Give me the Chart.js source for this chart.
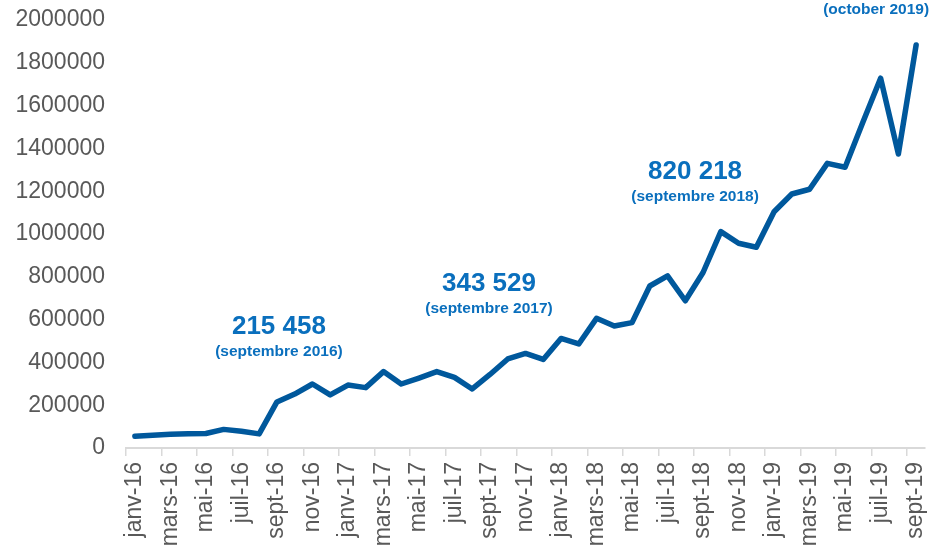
<!DOCTYPE html>
<html>
<head>
<meta charset="utf-8">
<script src="https://cdn.jsdelivr.net/npm/chart.js@4.4.1/dist/chart.umd.min.js"></script>
<style>
  html, body { margin: 0; padding: 0; background: #fff; }
  #wrap { width: 939px; height: 548px; }
</style>
</head>
<body>
<div id="wrap"><canvas id="chart"></canvas></div>
<script>
// months, janv-16 .. sept-19
var months = ['janv', 'févr', 'mars', 'avr', 'mai', 'juin', 'juil', 'août', 'sept', 'oct', 'nov', 'déc'];
var years = ['16', '17', '18', '19'];
var labels = [];
for (var y = 0; y < years.length; y++) {
  for (var m = 0; m < 12; m++) {
    if (y === 3 && m > 8) break;
    labels.push(months[m] + '-' + years[y]);
  }
}

var values = [
  55000, 60000, 64000, 67000, 68000, 87000, 78000, 66000,
  215458, 252000, 299000, 248000,
  294000, 282000, 357000, 299000, 327000, 357000, 330000, 276000,
  343529, 416000, 442000, 414000,
  512000, 486000, 606000, 570000, 586000, 757000, 804000, 688000,
  820218, 1011000, 957000, 938000,
  1104000, 1187000, 1209000, 1330000, 1312000, 1522000, 1728000, 1374000,
  1883000
];

var yTicks = [0, 200000, 400000, 600000, 800000, 1000000, 1200000, 1400000, 1600000, 1800000, 2000000];

// annotations: point index, main text, sub text
var notes = [
  { idx: 8, big: '215 458', small: '(septembre 2016)' },
  { idx: 20, big: '343 529', small: '(septembre 2017)' },
  { idx: 32, big: '820 218', small: '(septembre 2018)' },
  { idx: 44, big: '', small: '(october 2019)' }
];
// pixel offsets of each note from its point
var noteOffsets = [
  { dx: 2, dy: -75 },
  { dx: -1, dy: -91 },
  { dx: -8, dy: -101 },
  { dx: -40, dy: -35 }
];

var notePlugin = {
  id: 'notes',
  afterDatasetsDraw: function (chart) {
    var ctx = chart.ctx;
    var xs = chart.scales.x, ys = chart.scales.y;
    ctx.save();
    ctx.fillStyle = '#0a6fbd';
    ctx.textAlign = 'center';
    ctx.textBaseline = 'middle';
    notes.forEach(function (n, i) {
      var px = xs.getPixelForValue(n.idx) + noteOffsets[i].dx;
      var py = ys.getPixelForValue(values[n.idx]) + noteOffsets[i].dy;
      if (n.big) {
        ctx.font = 'bold 26px "Liberation Sans", Arial, sans-serif';
        ctx.fillText(n.big, px, py);
        ctx.font = 'bold 15.5px "Liberation Sans", Arial, sans-serif';
        ctx.fillText(n.small, px, py + 25);
      } else {
        ctx.font = 'bold 15.5px "Liberation Sans", Arial, sans-serif';
        ctx.fillText(n.small, px, py);
      }
    });
    ctx.restore();
  }
};

new Chart(document.getElementById('chart'), {
  type: 'line',
  data: {
    labels: labels,
    datasets: [{
      data: values,
      borderColor: '#00589c',
      borderWidth: 5.5,
      borderJoinStyle: 'round',
      borderCapStyle: 'round',
      tension: 0,
      pointRadius: 0,
      fill: false
    }]
  },
  options: {
    responsive: true,
    maintainAspectRatio: false,
    animation: false,
    layout: { padding: { top: 20, right: 14, left: 0, bottom: 0 } },
    plugins: { legend: { display: false }, tooltip: { enabled: false } },
    scales: {
      x: {
        offset: true,
        grid: {
          offset: true,
          drawOnChartArea: false,
          drawTicks: true,
          tickLength: 8,
          lineWidth: 1.5,
          color: function (c) { return c.index % 2 === 0 ? '#d9d9d9' : 'rgba(0,0,0,0)'; }
        },
        border: { display: true, color: '#d9d9d9', width: 2 },
        ticks: {
          autoSkip: false,
          maxRotation: 90,
          minRotation: 90,
          padding: 6,
          color: '#595959',
          font: { family: '"Liberation Sans", Arial, sans-serif', size: 23 },
          callback: function (v, i) { return i % 2 === 0 ? labels[i] : ''; }
        },
        afterFit: function (s) { s.height = 100; s.paddingLeft = 0; s.paddingRight = 0; }
      },
      y: {
        min: 0,
        max: 2000000,
        afterBuildTicks: function (s) { s.ticks = yTicks.map(function (v) { return { value: v }; }); },
        grid: { display: false, drawTicks: false },
        border: { display: false },
        ticks: {
          padding: 21,
          color: '#595959',
          font: { family: '"Liberation Sans", Arial, sans-serif', size: 23 },
          callback: function (v) { return String(v); }
        },
        afterFit: function (s) { s.width = 126; s.paddingTop = 0; s.paddingBottom = 0; }
      }
    }
  },
  plugins: [notePlugin]
});
</script>
</body>
</html>
